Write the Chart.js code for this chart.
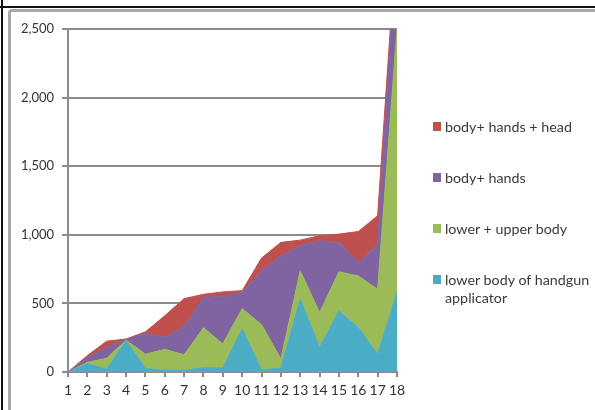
<!DOCTYPE html>
<html>
<head>
<meta charset="utf-8">
<script src="https://cdn.jsdelivr.net/npm/chart.js@4"></script>
<style>
  body { margin: 0; background: #fff; }
  #wrap { position: relative; width: 595px; height: 410px; overflow: hidden; font-family: Lato, sans-serif; }
  .edgeV { position: absolute; left: 1px; top: 0; width: 2px; height: 410px; background: #111; }
  .edgeH { position: absolute; left: 0; top: 6px; width: 595px; height: 2px; background: #111; }
  .frame { position: absolute; left: 8px; top: 9px; width: 610px; height: 430px; box-sizing: border-box;
           border: 3px solid #a9a9a9; border-radius: 4px; }
  #myChart { position: absolute; left: 0; top: 0; }
  #legend { position: absolute; left: 433px; top: 118px; }
  .item { display: flex; align-items: flex-start; margin-bottom: 33px; }
  .swatch { width: 8px; height: 9px; margin-top: 4px; margin-right: 4px; flex: none; }
  .txt { font-size: 14.3px; line-height: 18px; color: #3a3a3a; width: 150px; }
</style>
</head>
<body>
<div id="wrap">
  <div class="edgeV"></div>
  <div class="edgeH"></div>
  <div class="frame"></div>
  <canvas id="myChart" width="595" height="410"></canvas>
  <div id="legend"></div>
</div>
<script>
// x categories
const labels = ['1','2','3','4','5','6','7','8','9','10','11','12','13','14','15','16','17','18'];

// series names, bottom of the stack first
const names = ['lower body of handgun applicator', 'lower + upper body', 'body+ hands', 'body+ hands + head'];
const colors = ['#4BACC6', '#9BBB59', '#8064A2', '#C0504D'];

// values per series (stacked)
const lowerBody  = [0, 60, 20, 230, 25, 12, 12, 30, 30, 315, 15, 28, 530, 178, 445, 324, 129, 580];
const lowerUpper = [0, 10, 80, 2, 105, 153, 113, 292, 174, 147, 330, 67, 207, 255, 285, 376, 474, 1925];
const bodyHands  = [0, 35, 80, 4, 150, 90, 205, 223, 346, 118, 395, 750, 183, 523, 214, 98, 327, 700];
const bodyHead   = [0, 15, 45, 4, 13, 155, 205, 21, 34, 13, 90, 100, 41, 37, 61, 226, 209, 20];

const yTicks = [0, 500, 1000, 1500, 2000, 2500];

const series = [lowerBody, lowerUpper, bodyHands, bodyHead];

let myChart = document.getElementById('myChart').getContext('2d');

const areaChart = new Chart(myChart, {
    type: 'line',
    data: {
        labels: labels,
        datasets: series.map((vals, i) => ({
            label: names[i],
            data: vals,
            backgroundColor: colors[i],
            borderColor: colors[i],
            borderWidth: 1,
            fill: i === 0 ? 'origin' : '-1',
            tension: 0,
            pointRadius: 0
        }))
    },
    options: {
        responsive: false,
        animation: false,
        layout: { padding: { top: 29, right: 198, left: 0, bottom: 0 } },
        plugins: {
            legend: { display: false },
            tooltip: { enabled: false }
        },
        scales: {
            x: {
                offset: false,
                z: 1,
                grid: { drawOnChartArea: false, color: '#8c8c8c', lineWidth: 2, tickLength: 5 },
                border: { color: '#8c8c8c', width: 2 },
                ticks: { color: '#333', font: { family: 'Lato', size: 14 }, padding: 5, maxRotation: 0, autoSkip: false },
                afterFit(scale) { scale.height = 38; }
            },
            y: {
                stacked: true,
                min: yTicks[0],
                max: yTicks[yTicks.length - 1],
                afterBuildTicks(scale) { scale.ticks = yTicks.map(v => ({ value: v })); },
                grid: { color: '#8c8c8c', lineWidth: 2, tickLength: 6 },
                border: { color: '#8c8c8c', width: 2 },
                ticks: {
                    color: '#333',
                    font: { family: 'Lato', size: 13 },
                    padding: 8,
                    callback: v => v.toLocaleString('en-US')
                },
                afterFit(scale) { scale.width = 68; }
            }
        }
    }
});

// legend, top of the stack first
const legend = document.getElementById('legend');
for (let i = names.length - 1; i >= 0; i--) {
    const item = document.createElement('div');
    item.className = 'item';
    item.innerHTML = '<div class="swatch" style="background:' + colors[i] + '"></div><div class="txt"></div>';
    item.querySelector('.txt').textContent = names[i];
    legend.appendChild(item);
}
</script>
</body>
</html>
